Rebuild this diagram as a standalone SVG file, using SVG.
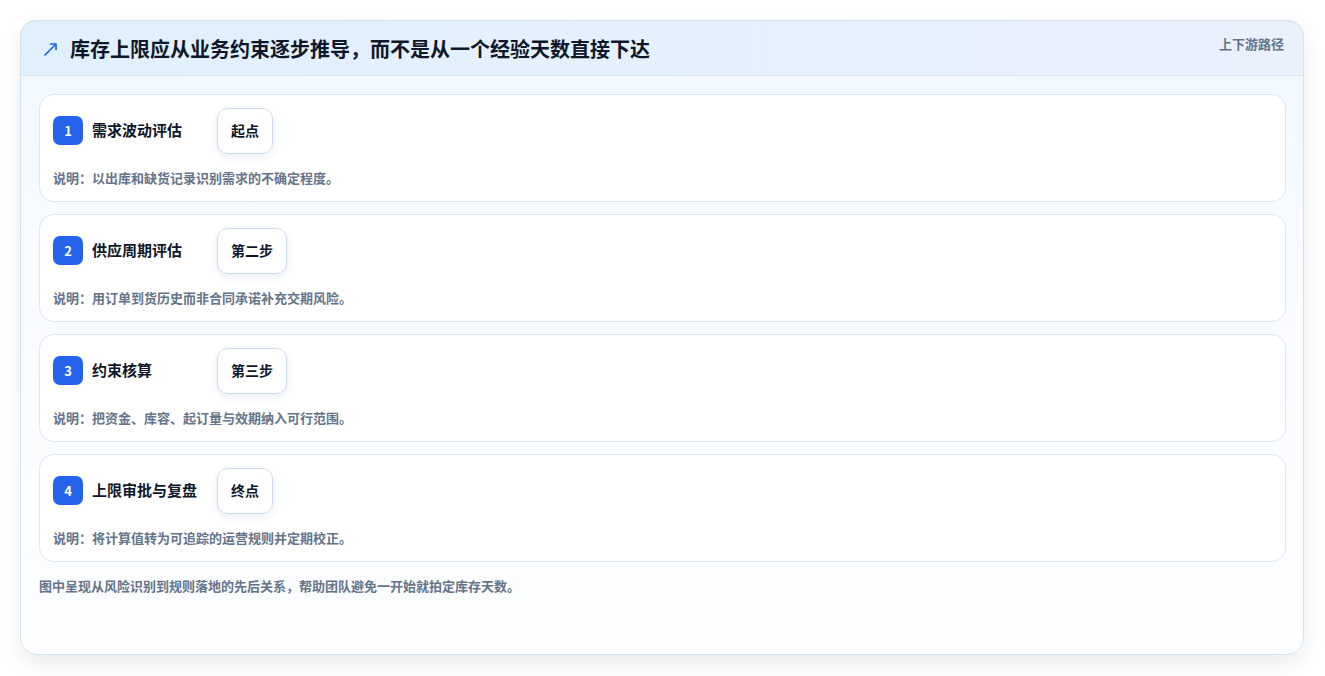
<svg xmlns="http://www.w3.org/2000/svg" width="1325" height="676" viewBox="0 0 1325 676">
<defs>
<linearGradient id="hdr" x1="0" y1="0" x2="1" y2="0"><stop offset="0" stop-color="#e0f0fd"/><stop offset="1" stop-color="#eaf1fd"/></linearGradient>
<linearGradient id="body" x1="0" y1="0" x2="0" y2="1"><stop offset="0" stop-color="#f0f8fe"/><stop offset="0.4" stop-color="#f8fbfe"/><stop offset="1" stop-color="#fcfdfe"/></linearGradient>
<filter id="sh" x="-10%" y="-10%" width="120%" height="125%"><feDropShadow dx="0" dy="8" stdDeviation="10" flood-color="#0f172a" flood-opacity="0.08"/></filter>
<filter id="psh" x="-30%" y="-30%" width="160%" height="180%"><feDropShadow dx="0" dy="3" stdDeviation="4" flood-color="#1e3a8a" flood-opacity="0.08"/></filter>
<clipPath id="cardclip"><rect x="20" y="20" width="1284" height="635" rx="16"/></clipPath>
</defs>
<style>
text{font-family:"Noto Sans CJK SC","Noto Sans",sans-serif;font-weight:700}
.card{fill:#ffffff;stroke:#dbe7f3;stroke-width:1}
.badge{fill:#2563eb}
.num{fill:#ffffff;font-size:13px;text-anchor:middle}
.ttl{fill:#0f172a;font-size:15px}
.pill{fill:#ffffff;stroke:#c9d9ee;stroke-width:1;filter:url(#psh)}
.ptx{fill:#0f172a;font-size:14px;text-anchor:middle}
.desc{fill:#64748b;font-size:13px}
</style>
<rect width="1325" height="676" fill="#ffffff"/>
<g id="frame">
<rect x="20" y="20" width="1284" height="635" rx="16" fill="url(#body)" filter="url(#sh)"/>
<g clip-path="url(#cardclip)"><rect x="20" y="20" width="1284" height="55" fill="url(#hdr)"/><line x1="20" y1="75.5" x2="1304" y2="75.5" stroke="#d6e6f5"/></g>
<rect x="20.5" y="20.5" width="1283" height="634" rx="16" fill="none" stroke="#cfe3f1"/>
</g>
<g id="header">
<path d="M45 55 L56 44 M50.5 44 L56 44 L56 49.5" fill="none" stroke="#2563eb" stroke-width="1.7" stroke-linecap="round" stroke-linejoin="round"/>
<text x="70" y="57" font-size="20" fill="#0f172a">库存上限应从业务约束逐步推导，而不是从一个经验天数直接下达</text>
<text x="1284" y="49" font-size="13" fill="#64748b" text-anchor="end">上下游路径</text>
</g>
<g id="step1">
<rect class="card" x="39.5" y="94.5" width="1246" height="107" rx="14"/>
<rect class="badge" x="53" y="116" width="30" height="29" rx="7"/>
<text class="num" x="68" y="135.5">1</text>
<text class="ttl" x="92" y="136">需求波动评估</text>
<rect class="pill" x="217.5" y="108.5" width="55" height="45" rx="10"/>
<text class="ptx" x="245" y="136">起点</text>
<text class="desc" x="53" y="183">说明：以出库和缺货记录识别需求的不确定程度。</text>
</g>
<g id="step2">
<rect class="card" x="39.5" y="214.5" width="1246" height="107" rx="14"/>
<rect class="badge" x="53" y="236" width="30" height="29" rx="7"/>
<text class="num" x="68" y="255.5">2</text>
<text class="ttl" x="92" y="256">供应周期评估</text>
<rect class="pill" x="217.5" y="228.5" width="69" height="45" rx="10"/>
<text class="ptx" x="252" y="256">第二步</text>
<text class="desc" x="53" y="303">说明：用订单到货历史而非合同承诺补充交期风险。</text>
</g>
<g id="step3">
<rect class="card" x="39.5" y="334.5" width="1246" height="107" rx="14"/>
<rect class="badge" x="53" y="356" width="30" height="29" rx="7"/>
<text class="num" x="68" y="375.5">3</text>
<text class="ttl" x="92" y="376">约束核算</text>
<rect class="pill" x="217.5" y="348.5" width="69" height="45" rx="10"/>
<text class="ptx" x="252" y="376">第三步</text>
<text class="desc" x="53" y="423">说明：把资金、库容、起订量与效期纳入可行范围。</text>
</g>
<g id="step4">
<rect class="card" x="39.5" y="454.5" width="1246" height="107" rx="14"/>
<rect class="badge" x="53" y="476" width="30" height="29" rx="7"/>
<text class="num" x="68" y="495.5">4</text>
<text class="ttl" x="92" y="496">上限审批与复盘</text>
<rect class="pill" x="217.5" y="468.5" width="55" height="45" rx="10"/>
<text class="ptx" x="245" y="496">终点</text>
<text class="desc" x="53" y="543">说明：将计算值转为可追踪的运营规则并定期校正。</text>
</g>
<g id="connectors"></g>
<g id="footer">
<text class="desc" x="39" y="591">图中呈现从风险识别到规则落地的先后关系，帮助团队避免一开始就拍定库存天数。</text>
</g>
</svg>
